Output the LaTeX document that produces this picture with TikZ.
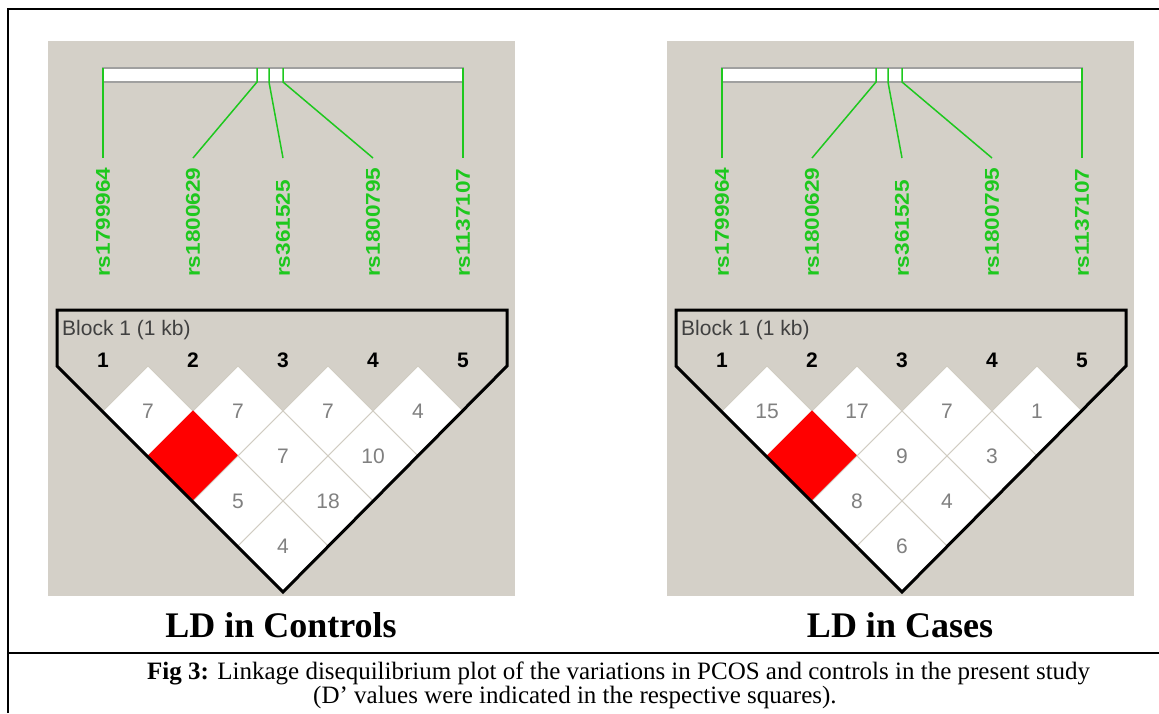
\documentclass[tikz,border=0pt]{standalone}
\usepackage{fontspec}
\setmainfont{Liberation Serif}
\newfontfamily\ldfont{Liberation Sans}
\usepackage{graphicx}
\usepackage{tikz}
\usetikzlibrary{shapes.geometric}

\definecolor{panelgray}{RGB}{212,208,200}
\definecolor{snpgreen}{RGB}{30,200,30}
\definecolor{cellnum}{RGB}{128,128,128}
\definecolor{cellline}{RGB}{208,204,194}
\definecolor{bargray}{RGB}{160,160,160}
\definecolor{blocktext}{RGB}{64,64,64}

\tikzset{
  panel/.style={fill=panelgray},
  snpbar/.style={fill=white, draw=bargray, line width=1.5pt},
  snpline/.style={draw=snpgreen, line width=1.5pt},
  snplabel/.style={text=snpgreen, font=\ldfont\bfseries\fontsize{20}{20}\selectfont,
    rotate=90, anchor=west, inner sep=0pt},
  blocklabel/.style={text=blocktext, font=\ldfont\fontsize{21}{21}\selectfont,
    anchor=west, inner sep=0pt},
  marker/.style={font=\ldfont\bfseries\fontsize{21}{21}\selectfont, inner sep=0pt},
  cell/.style={shape=diamond, fill=white, draw=cellline, line width=1pt,
    minimum width=90pt, minimum height=90pt, inner sep=0pt, outer sep=0pt,
    text=cellnum, font=\ldfont\fontsize{21}{21}\selectfont},
  redcell/.style={cell, fill=red, draw=red},
  ldframe/.style={draw=black, line width=3pt, line join=miter},
  title/.style={font=\bfseries\fontsize{36}{36}\selectfont, anchor=base, inner sep=0pt},
  captext/.style={font=\fontsize{25}{25}\selectfont, anchor=base west, inner sep=0pt},
  rule/.style={draw=black, line width=2pt}
}

\begin{document}
\begin{tikzpicture}[x=1pt, y=-1pt]
\useasboundingbox (0,0) rectangle (1159,713);

% frame of the figure and caption
\draw[rule] (8,713) -- (8,9) -- (1160,9);
\draw[rule] (8,653) -- (1160,653);

% the two haploview panels
\foreach \p/\dx in {ctl/0, cas/619}{
  \begin{scope}[xshift=\dx pt]
    \fill[panel] (48,41) rectangle (515,596);
    \draw[snpbar] (103,68) rectangle (463,82);
    % snp ticks on the bar
    \coordinate (\p-t1) at (103,68);
    \coordinate (\p-t2) at (257,68);
    \coordinate (\p-t3) at (269,68);
    \coordinate (\p-t4) at (283,68);
    \coordinate (\p-t5) at (463,68);
    \coordinate (\p-b2) at (257,82);
    \coordinate (\p-b3) at (269,82);
    \coordinate (\p-b4) at (283,82);
    % feet of the green lines
    \coordinate (\p-e1) at (103,158);
    \coordinate (\p-e2) at (193,158);
    \coordinate (\p-e3) at (283,158);
    \coordinate (\p-e4) at (373,158);
    \coordinate (\p-e5) at (463,158);
    \draw[snpline] (\p-t1) -- (\p-e1);
    \draw[snpline] (\p-t2) -- (\p-b2) -- (\p-e2);
    \draw[snpline] (\p-t3) -- (\p-b3) -- (\p-e3);
    \draw[snpline] (\p-t4) -- (\p-b4) -- (\p-e4);
    \draw[snpline] (\p-t5) -- (\p-e5);
    \node[snplabel] (\p-s1) at (103,277) {\scalebox{1.13}[1]{rs1799964}};
    \node[snplabel] (\p-s2) at (193,277) {\scalebox{1.13}[1]{rs1800629}};
    \node[snplabel] (\p-s3) at (283,277) {\scalebox{1.13}[1]{rs361525}};
    \node[snplabel] (\p-s4) at (373,277) {\scalebox{1.13}[1]{rs1800795}};
    \node[snplabel] (\p-s5) at (463,277) {\scalebox{1.13}[1]{rs1137107}};
    \node[blocklabel] (\p-blk) at (62,330) {Block 1 (1 kb)};
    \node[marker] (\p-m1) at (103,360) {1};
    \node[marker] (\p-m2) at (193,360) {2};
    \node[marker] (\p-m3) at (283,360) {3};
    \node[marker] (\p-m4) at (373,360) {4};
    \node[marker] (\p-m5) at (463,360) {5};
  \end{scope}
}

% D' cells, controls
\node[cell] (ctl-c12) at (148,411) {7};
\node[cell] (ctl-c23) at (238,411) {7};
\node[cell] (ctl-c34) at (328,411) {7};
\node[cell] (ctl-c45) at (418,411) {4};
\node[redcell] (ctl-c13) at (193,456) {};
\node[cell] (ctl-c24) at (283,456) {7};
\node[cell] (ctl-c35) at (373,456) {10};
\node[cell] (ctl-c14) at (238,501) {5};
\node[cell] (ctl-c25) at (328,501) {18};
\node[cell] (ctl-c15) at (283,546) {4};

% D' cells, cases
\begin{scope}[xshift=619pt]
\node[cell] (cas-c12) at (148,411) {15};
\node[cell] (cas-c23) at (238,411) {17};
\node[cell] (cas-c34) at (328,411) {7};
\node[cell] (cas-c45) at (418,411) {1};
\node[redcell] (cas-c13) at (193,456) {};
\node[cell] (cas-c24) at (283,456) {9};
\node[cell] (cas-c35) at (373,456) {3};
\node[cell] (cas-c14) at (238,501) {8};
\node[cell] (cas-c25) at (328,501) {4};
\node[cell] (cas-c15) at (283,546) {6};
\end{scope}

% block outlines
\foreach \dx in {0, 619}
  \draw[ldframe, xshift=\dx pt] (57,310) -- (507,310) -- (507,366) -- (283,592) -- (57,366) -- cycle;

\node[title] (ctl-title) at (281,637) {LD in Controls};
\node[title] (cas-title) at (900,637) {LD in Cases};

\node[captext] (cap1) at (147,679) {\textbf{Fig 3:} Linkage disequilibrium plot of the variations in PCOS and controls in the present study};
\node[captext] (cap2) at (313,703) {(D’ values were indicated in the respective squares).};
\end{tikzpicture}
\end{document}
